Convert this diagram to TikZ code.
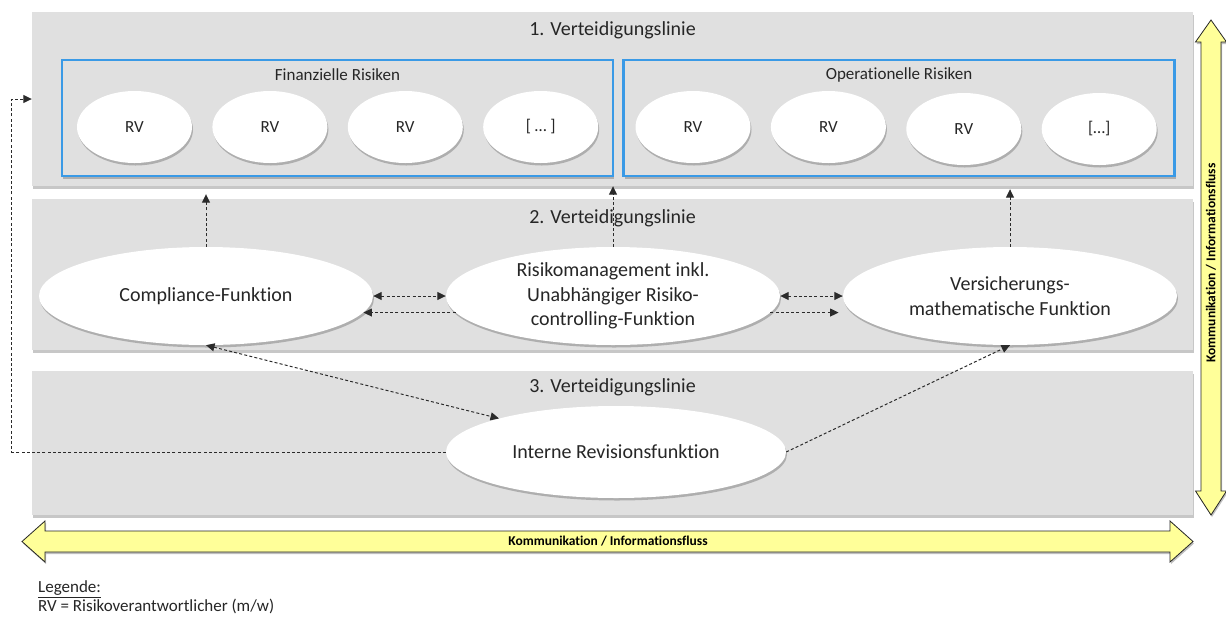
\documentclass[tikz,border=0pt]{standalone}
\usepackage{fontspec}
\setmainfont{Carlito}[Ligatures=NoCommon]
\usepackage{tikz}
\usetikzlibrary{positioning,arrows.meta,shapes.geometric,shadows,calc}
\definecolor{BandGray}{HTML}{E0E0E0}
\definecolor{RiskBlue}{HTML}{3A9AE6}
\definecolor{FlowYellow}{HTML}{FFFF99}
\definecolor{LinkGray}{HTML}{2B2B2B}
\definecolor{TextGray}{HTML}{262626}

\begin{document}
\begin{tikzpicture}[
  x=1pt, y=-1pt,
  font=\fontsize{20}{24.5}\selectfont,
  text=TextGray,
  >={Triangle[length=8.5pt,width=8pt]},
  % --- soft shadow used by bands, boxes and ellipses ---
  soft/.style={drop shadow={shadow xshift=1pt, shadow yshift=-2.5pt, opacity=.22, fill=black}},
  % --- lines of defence ---
  band/.style={fill=BandGray, soft, minimum width=1161pt, inner sep=0pt},
  linetitle/.style={inner sep=1pt},
  riskbox/.style={draw=RiskBlue, line width=2.2pt, fill=BandGray, soft, minimum width=551pt, minimum height=116pt, inner sep=0pt},
  boxtitle/.style={inner sep=1pt, font=\fontsize{17}{20}\selectfont},
  rv/.style={ellipse, fill=white, soft, minimum width=115pt, minimum height=72pt, inner sep=0pt, font=\fontsize{17}{20}\selectfont},
  funk/.style={ellipse, fill=white, soft, minimum width=334pt, minimum height=98pt, inner sep=0pt, align=center},
  % --- relations ---
  link/.style={draw=LinkGray, line width=1pt, dash pattern=on 3pt off 2.2pt},
  flow/.style={fill=FlowYellow, draw=black!85, line width=0.8pt, drop shadow={shadow xshift=1pt, shadow yshift=-2pt, opacity=.25, fill=black}},
  flowlbl/.style={inner sep=0pt, text=black, font=\fontsize{13.5}{15}\selectfont\bfseries},
  legend/.style={inner sep=0pt, font=\fontsize{17}{18}\selectfont},
]
\path[use as bounding box, fill=white] (0,0) rectangle (1226,619);

% =================== 1. VERTEIDIGUNGSLINIE ===================
\node[band, minimum height=174pt] (band1) at (612.5,99) {};
\node[linetitle] (title1) at ([yshift=-18pt]band1.north) {1. Verteidigungslinie};

% Finanzielle Risiken
\node[riskbox] (finbox) at (337.5,118) {};
\node[boxtitle] (fintitle) at ([yshift=-16pt]finbox.north) {Finanzielle Risiken};
\node[rv] (fin1) at (134.5,127) {RV};
\node[rv, right=20pt of fin1] (fin2) {RV};
\node[rv, right=20pt of fin2] (fin3) {RV};
\node[rv, right=20pt of fin3] (fin4) {[ … ]};

% Operationelle Risiken
\node[riskbox] (opbox) at (899,118) {};
\node[boxtitle] (optitle) at ([yshift=-16pt]opbox.north) {Operationelle Risiken};
\node[rv] (op1) at (693,127) {RV};
\node[rv, right=20pt of op1] (op2) {RV};
\node[rv, right=20pt of op2, yshift=-2pt] (op3) {RV};
\node[rv, right=20pt of op3] (op4) {[…]};

% =================== 2. VERTEIDIGUNGSLINIE ===================
\node[band, minimum height=151pt] (band2) at (612.5,274.5) {};
\node[linetitle] (title2) at ([yshift=-19pt]band2.north) {2. Verteidigungslinie};

\node[funk] (comp) at (206,296) {Compliance-Funktion};
\node[funk] (risk) at (613,296) {Risikomanagement inkl.\\Unabhängiger Risiko-\\controlling-Funktion};
\node[funk] (vers) at (1010,296) {Versicherungs-\\mathematische Funktion};

% =================== 3. VERTEIDIGUNGSLINIE ===================
\node[band, minimum height=144pt] (band3) at (612.5,443) {};
\node[linetitle] (title3) at ([yshift=-16pt]band3.north) {3. Verteidigungslinie};

\node[funk, minimum width=340pt, minimum height=92pt] (intrev) at (616,452) {Interne Revisionsfunktion};

% =================== RELATIONS ===================
% second line reports to first line
\draw[link,->,shorten >=8pt] (comp.north) -- (comp.north |- band1.south);
\draw[link,->] (risk.north) -- (risk.north |- band1.south);
\draw[link,->,shorten >=3pt] (vers.north) -- (vers.north |- band1.south);

% exchange inside the second line
\draw[link,<->] (comp.east) -- (risk.west);
\draw[link,->] (risk.186) -- (comp.354);
\draw[link,<->] (risk.east) -- (vers.west);
\draw[link,->,shorten >=14pt] (risk.354) -- (vers.186);

% internal audit
\draw[link,<->] (comp.south) -- (intrev.164);
\draw[link,->] (intrev.east) -- (vers.south);
\coordinate (back) at ([xshift=-20pt]band1.west);
\draw[link,->] (intrev.west) -| (back) -- (band1.west);

% =================== KOMMUNIKATION ===================
\draw[flow] (22,541.5) -- (45,521) -- (45,531) -- (1170,531) -- (1170,521) -- (1193,541.5)
  -- (1170,562) -- (1170,552) -- (45,552) -- (45,562) -- cycle;
\node[flowlbl] (hflowlbl) at (608,541.5) {Kommunikation / Informationsfluss};

\draw[flow] (1211,20) -- (1226.5,42) -- (1221,42) -- (1221,491) -- (1226.5,491) -- (1211,515)
  -- (1195.5,491) -- (1201,491) -- (1201,42) -- (1195.5,42) -- cycle;
\node[flowlbl, rotate=90] (vflowlbl) at (1211,263) {Kommunikation / Informationsfluss};

% legend
\node[legend, anchor=west] (legtitle) at (38,589) {\underline{Legende:}};
\node[legend, anchor=west] (legrv) at (38,606) {RV = Risikoverantwortlicher (m/w)};

\end{tikzpicture}
\end{document}
